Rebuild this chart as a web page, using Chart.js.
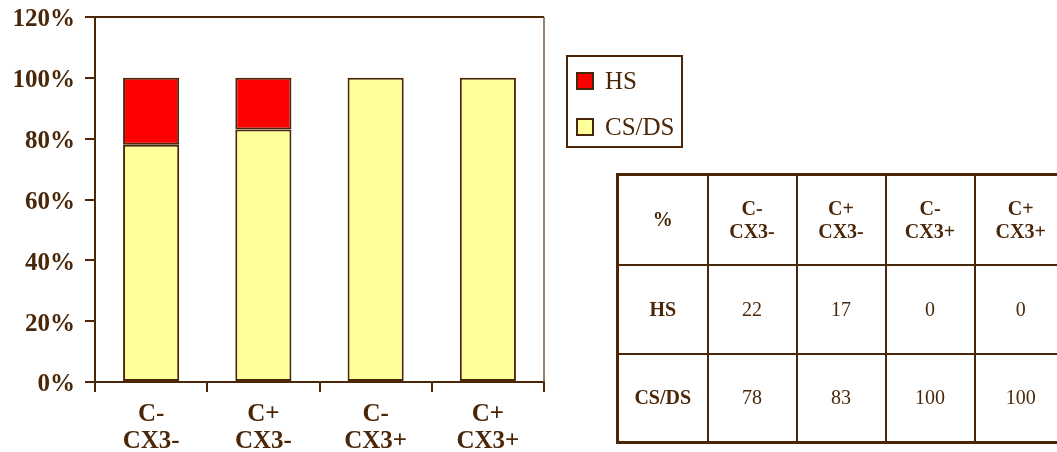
<!DOCTYPE html>
<html><head><meta charset="utf-8">
<script src="https://cdn.jsdelivr.net/npm/chart.js@4/dist/chart.umd.min.js"></script>
<style>
html,body{margin:0;padding:0;background:#fff;width:1057px;height:452px;overflow:hidden;}
#wrap{position:relative;width:1057px;height:452px;overflow:hidden;}
#c{position:absolute;left:0;top:0;}
#legend{position:absolute;left:566px;top:55px;width:113px;height:89px;border:2px solid #4b2709;font-family:"Liberation Serif",serif;font-size:25px;color:#4b2709;}
.li{position:absolute;left:8px;height:26px;line-height:26px;white-space:nowrap;}
.sw{display:inline-block;box-sizing:border-box;width:18px;height:18px;border:2px solid #4b2709;vertical-align:middle;margin-right:11px;position:relative;top:-2px;}
#tbl{position:absolute;left:616px;top:173px;border-collapse:collapse;table-layout:fixed;width:450px;border:3px solid #4b2709;font-family:"Liberation Serif",serif;font-size:20px;color:#4b2709;}
#tbl td{border:2px solid #4b2709;text-align:center;vertical-align:middle;padding:0;line-height:23px;}
#tbl tr.h td{font-weight:bold;}
#tbl td.rh{font-weight:bold;}
</style>
</head><body>
<div id="wrap">
<canvas id="c" width="1057" height="452"></canvas>
<div id="legend"></div>
<table id="tbl"></table>
</div>
<script>
const categories = [['C-','CX3-'],['C+','CX3-'],['C-','CX3+'],['C+','CX3+']];
const seriesNames = ['HS','CS/DS'];
const hsValues = [22,17,0,0];
const csdsValues = [78,83,100,100];
const yTicks = [0,20,40,60,80,100,120];
const tableCorner = '%';

const BROWN = '#4b2709';
const FONT = '"Liberation Serif", serif';

const framePlugin = {
  id:'frame',
  afterDraw(chart){
    const {ctx, chartArea:a} = chart;
    ctx.save();
    ctx.strokeStyle = BROWN;
    ctx.lineWidth = 2;
    ctx.beginPath();
    ctx.moveTo(a.left, a.top);
    ctx.lineTo(a.right, a.top);
    ctx.stroke();
    ctx.strokeStyle = '#7a5a3c';
    ctx.lineWidth = 1.5;
    ctx.beginPath();
    ctx.moveTo(a.right, a.top);
    ctx.lineTo(a.right, a.bottom);
    ctx.stroke();
    ctx.restore();
  }
};

const chart = new Chart(document.getElementById('c'), {
  type:'bar',
  data:{
    labels: categories,
    datasets:[
      {label: seriesNames[1], data: csdsValues, backgroundColor:'#FFFF99', borderColor:BROWN, borderWidth:2, borderSkipped:false, barPercentage:1, categoryPercentage:0.5},
      {label: seriesNames[0], data: hsValues, backgroundColor:'#FF0000', borderColor:BROWN, borderWidth:2, borderSkipped:false, barPercentage:1, categoryPercentage:0.5}
    ]
  },
  options:{
    responsive:false,
    animation:false,
    devicePixelRatio:1,
    layout:{padding:{top:17,right:513,left:0,bottom:0}},
    plugins:{legend:{display:false}, tooltip:{enabled:false}},
    scales:{
      x:{
        stacked:true,
        grid:{offset:true, drawOnChartArea:false, drawTicks:true, tickLength:10, color:BROWN, lineWidth:2},
        border:{color:BROWN, width:2},
        ticks:{color:BROWN, font:{family:FONT, size:25, weight:'bold', lineHeight:1.08}, padding:9, maxRotation:0, autoSkip:false},
        afterFit(s){ s.height = 70; s.paddingLeft = 0; s.paddingRight = 0; }
      },
      y:{
        stacked:true,
        min:0, max:120,
        afterBuildTicks(s){ s.ticks = yTicks.map(v=>({value:v})); },
        grid:{drawOnChartArea:false, drawTicks:true, tickLength:10, color:BROWN, lineWidth:2},
        border:{color:BROWN, width:2},
        ticks:{color:BROWN, font:{family:FONT, size:25, weight:'bold'}, padding:10, labelOffset:3, callback:v=>v+'%'},
        afterFit(s){ s.width = 95; s.paddingTop = 0; s.paddingBottom = 0; }
      }
    }
  },
  plugins:[framePlugin]
});

// Legend (HS first, then CS/DS)
const legend = document.getElementById('legend');
const tops = [11, 57];
chart.data.datasets.slice().reverse().forEach((ds,i)=>{
  const d = document.createElement('div');
  d.className='li';
  d.style.top = tops[i]+'px';
  const sw = document.createElement('span');
  sw.className='sw';
  sw.style.background = ds.backgroundColor;
  d.appendChild(sw);
  d.appendChild(document.createTextNode(ds.label));
  legend.appendChild(d);
});

// Table
const tbl = document.getElementById('tbl');
const colW = [90,89,89,89,93];
const cg = document.createElement('colgroup');
colW.forEach(w=>{const c=document.createElement('col'); c.style.width=w+'px'; cg.appendChild(c);});
tbl.appendChild(cg);
const hr = document.createElement('tr'); hr.className='h'; hr.style.height='90px';
const c0 = document.createElement('td'); c0.textContent = tableCorner; hr.appendChild(c0);
categories.forEach(cat=>{const td=document.createElement('td'); td.innerHTML = cat.join('<br>'); hr.appendChild(td);});
tbl.appendChild(hr);
[[seriesNames[0], hsValues],[seriesNames[1], csdsValues]].forEach(([name, vals])=>{
  const tr=document.createElement('tr'); tr.style.height='89px';
  const th=document.createElement('td'); th.className='rh'; th.textContent=name; tr.appendChild(th);
  vals.forEach(v=>{const td=document.createElement('td'); td.textContent=v; tr.appendChild(td);});
  tbl.appendChild(tr);
});
</script>
</body></html>
